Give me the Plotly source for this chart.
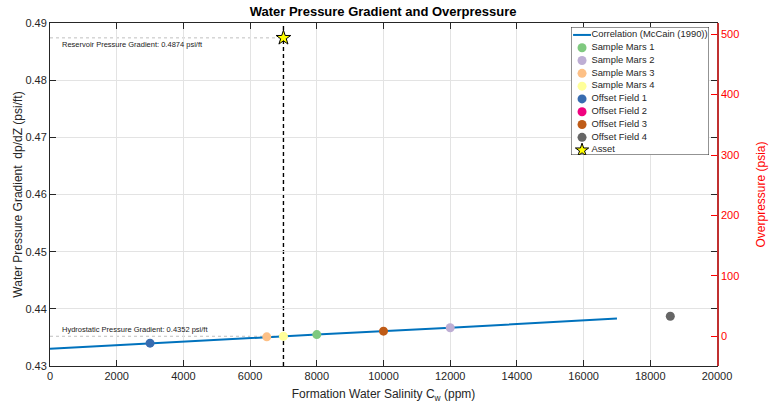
import plotly.graph_objects as go

# ---- data ----
corr_salinity = [0, 4000, 8000, 12000, 17000]
corr_gradient = [0.4330, 0.4343, 0.4355, 0.4367, 0.4383]

sample_names = ["Sample Mars 1", "Sample Mars 2", "Sample Mars 3", "Sample Mars 4",
                "Offset Field 1", "Offset Field 2", "Offset Field 3", "Offset Field 4"]
sample_salinity = [8000, 12000, 6500, 7000, 3000, None, 10000, 18600]
sample_gradient = [0.4355, 0.4367, 0.4351, 0.4352, 0.4340, None, 0.4361, 0.4387]
sample_colors = ["#7fc97f", "#beaed4", "#fdc086", "#ffff99",
                 "#386cb0", "#f0027f", "#bf5b17", "#666666"]

corr_name = "Correlation (McCain (1990))"
asset_name = "Asset"
asset_salinity = 7000
reservoir_gradient = 0.4874
hydrostatic_gradient = 0.4352
depth_ft = 9462  # overpressure scale factor (psi per psi/ft)

x_range = [0, 20000]
y_range = [0.43, 0.49]
y2_range = [(y_range[0] - hydrostatic_gradient) * depth_ft,
            (y_range[1] - hydrostatic_gradient) * depth_ft]

FONT = "Liberation Sans, Arial, Helvetica, sans-serif"
LINE_BLUE = "#0072BD"
STAR_YELLOW = "#ffff00"

fig = go.Figure()

fig.add_trace(go.Scatter(x=corr_salinity, y=corr_gradient, mode="lines",
                         name=corr_name, showlegend=False,
                         line=dict(color=LINE_BLUE, width=2)))

for n, xs, ys, c in zip(sample_names, sample_salinity, sample_gradient, sample_colors):
    fig.add_trace(go.Scatter(x=[xs], y=[ys], mode="markers", name=n, showlegend=False,
                             marker=dict(color=c, size=9, line=dict(width=0))))

fig.add_trace(go.Scatter(x=[asset_salinity], y=[reservoir_gradient], mode="markers",
                         name=asset_name, showlegend=False,
                         marker=dict(symbol="star", color=STAR_YELLOW, size=11,
                                     line=dict(color="black", width=1))))

# invisible trace to activate y2
fig.add_trace(go.Scatter(x=[None], y=[None], yaxis="y2", showlegend=False, hoverinfo="skip"))

# guide lines
fig.add_shape(type="line", x0=asset_salinity, x1=asset_salinity, y0=y_range[0], y1=y_range[1],
              xref="x", yref="y", line=dict(color="black", width=1.4, dash="4px,3px"), layer="below")
for g in [reservoir_gradient, hydrostatic_gradient]:
    fig.add_shape(type="line", x0=0, x1=asset_salinity, y0=g, y1=g, xref="x", yref="y",
                  line=dict(color="#b0b0b0", width=0.8, dash="dot"), layer="below")

fig.add_annotation(x=290, y=reservoir_gradient, xref="x", yref="y",
                   text="Reservoir Pressure Gradient: 0.4874 psi/ft", showarrow=False,
                   xanchor="left", yanchor="top", font=dict(size=7.5, color="#222", family=FONT))
fig.add_annotation(x=290, y=hydrostatic_gradient, xref="x", yref="y",
                   text="Hydrostatic Pressure Gradient: 0.4352 psi/ft", showarrow=False,
                   xanchor="left", yanchor="bottom", font=dict(size=7.5, color="#222", family=FONT))

# ---- compact legend box (MATLAB style), drawn on its own small subplot ----
PLOT_L, PLOT_R, PLOT_T, PLOT_B = 50, 717, 23, 366
LEG_L, LEG_R, LEG_T, LEG_B = 571, 709, 27, 155


def px_x(p):
    return (p - PLOT_L) / (PLOT_R - PLOT_L)


def px_y(p):
    return (PLOT_B - p) / (PLOT_B - PLOT_T)


leg_labels = [corr_name] + sample_names + [asset_name]
n_items = len(leg_labels)
row_y = [i + 0.62 for i in range(n_items)]

fig.add_shape(type="rect", xref="x3", yref="y3", x0=0, x1=1, y0=0, y1=n_items,
              fillcolor="white", line=dict(color="#262626", width=1), layer="below")

fig.add_trace(go.Scatter(x=[0.015, 0.145], y=[row_y[0], row_y[0]], mode="lines",
                         xaxis="x3", yaxis="y3", showlegend=False, hoverinfo="skip",
                         line=dict(color=LINE_BLUE, width=2)))
fig.add_trace(go.Scatter(x=[0.08] * len(sample_names), y=row_y[1:1 + len(sample_names)],
                         mode="markers", xaxis="x3", yaxis="y3", showlegend=False,
                         hoverinfo="skip", marker=dict(color=sample_colors, size=9)))
fig.add_trace(go.Scatter(x=[0.08], y=[row_y[-1]], mode="markers", xaxis="x3", yaxis="y3",
                         showlegend=False, hoverinfo="skip",
                         marker=dict(symbol="star", color=STAR_YELLOW, size=10,
                                     line=dict(color="black", width=1))))
fig.add_trace(go.Scatter(x=[0.148] * n_items, y=row_y, mode="text", text=leg_labels,
                         textposition="middle right", xaxis="x3", yaxis="y3",
                         showlegend=False, hoverinfo="skip", cliponaxis=False,
                         textfont=dict(size=9.4, color="#262626", family=FONT)))

fig.update_layout(
    width=774, height=405,
    margin=dict(l=PLOT_L, r=774 - PLOT_R, t=PLOT_T, b=405 - PLOT_B, autoexpand=False),
    paper_bgcolor="white", plot_bgcolor="white",
    font=dict(family=FONT, size=11, color="#262626"),
    title=dict(text="<b>Water Pressure Gradient and Overpressure</b>", x=0.495, xanchor="center",
               y=0.982, yanchor="top", font=dict(size=13, color="black", family=FONT)),
    showlegend=False,
    xaxis=dict(range=x_range, tickvals=list(range(0, 20001, 2000)), tickformat="d",
               automargin=False,
               showgrid=True, gridcolor="#e3e3e3", gridwidth=1,
               showline=True, linecolor="#262626", linewidth=1, mirror="ticks",
               ticks="inside", ticklen=6, tickcolor="#262626", zeroline=False,
               title=dict(text="Formation Water Salinity C<sub>w</sub> (ppm)", standoff=8,
                          font=dict(size=12))),
    yaxis=dict(range=y_range, tickvals=[0.43, 0.44, 0.45, 0.46, 0.47, 0.48, 0.49],
               tickformat=".2f", automargin=False,
               showgrid=True, gridcolor="#e3e3e3", gridwidth=1,
               showline=True, linecolor="#262626", linewidth=1, mirror="ticks",
               ticks="inside", ticklen=6, tickcolor="#262626", zeroline=False,
               title=dict(text="Water Pressure Gradient  dp/dZ (psi/ft)", standoff=0,
                          font=dict(size=12))),
    yaxis2=dict(range=y2_range, overlaying="y", side="right", automargin=False,
                tickvals=[0, 100, 200, 300, 400, 500],
                showgrid=False, zeroline=False,
                showline=True, linecolor="#c03030", linewidth=1.5,
                ticks="inside", ticklen=6, tickcolor="#ff0000",
                tickfont=dict(color="#ff0000", size=11),
                title=dict(text="Overpressure (psia)", font=dict(color="#ff0000", size=12),
                           standoff=18)),
    xaxis3=dict(domain=[px_x(LEG_L), px_x(LEG_R)], range=[0, 1], anchor="y3",
                visible=False, fixedrange=True),
    yaxis3=dict(domain=[px_y(LEG_B), px_y(LEG_T)], range=[n_items, 0], anchor="x3",
                visible=False, fixedrange=True),
)

fig.write_html("out.html")
